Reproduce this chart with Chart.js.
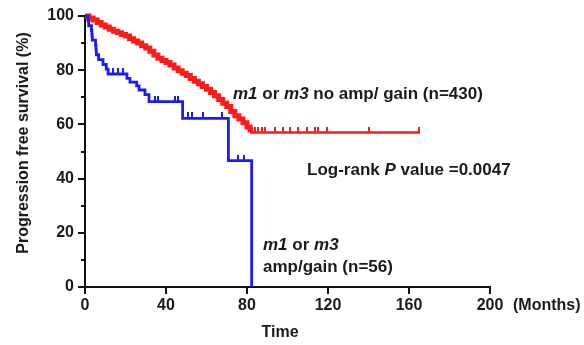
<!DOCTYPE html>
<html><head><meta charset="utf-8">
<script src="https://cdn.jsdelivr.net/npm/chart.js@4.4.0/dist/chart.umd.min.js"></script>
<style>html,body{margin:0;padding:0;background:#fff;}canvas{display:block;}</style>
</head><body>
<canvas id="c" width="584" height="345"></canvas>
<script>
// ---- data ----
const xTickValues = [0, 40, 80, 120, 160, 200];
const yTickValues = [0, 20, 40, 60, 80, 100];
const yMinorTicks = [10, 30, 50, 70, 90];

const redTime = [0,2,4,6,8,10,12,14,16,18,20,22,24,26,28,30,32,34,36,38,40,42,44,46,48,50,52,54,56,58,60,62,64,66,68,70,72,74,76,78,80,81.5,165.4];
const redSurv = [100,99.3,98.5,97.6,96.7,95.9,95.1,94.4,93.8,93.2,92.6,91.6,90.8,90,89,88.2,87,85.6,84.4,83.6,82.8,81.9,80.8,79.8,78.9,78,76.9,75.9,75,74,73,71.8,70.6,69.2,67.8,66.6,64.8,63.2,62,60.6,59,57,57];
const redCensorTime = [82.5,83.9,85.6,87.2,88.9,93.8,97.9,101.2,105.3,109.5,113.6,115,119.3,140.3,164.8];
const redCensorSurv = [57,57,57,57,57,57,57,57,57,57,57,57,57,57,57];

const blueTime = [0,1.5,1.8,3.2,3.4,3.6,5.2,5.4,5.6,6.7,8.9,10.5,11.4,20.7,22.2,25.5,26.7,29.6,31.6,48.2,70.8,82.3];
const blueSurv = [100,98.2,96.4,94.6,92.9,91.1,89.3,87.5,85.7,83.9,82.1,80.4,78.6,77,75.6,74.2,72.7,71,68.4,62.2,46.6,0];
const blueCensorTime = [14,16.4,18.9,34.6,36.2,44.4,46,50.9,52.8,58.3,67.7,75.6,78.5];
const blueCensorSurv = [78.6,78.6,78.6,68.4,68.4,68.4,68.4,62.2,62.2,62.2,62.2,46.6,46.6];

const yTitle = 'Progression free survival (%)';
const xTitle = 'Time';
const xUnit = '(Months)';

// ---- helpers ----
const RED = '#ff1a1a';
const BLUE = '#1a1aff';
const FONT = '"Liberation Sans", Arial, sans-serif';
function pts(xs, ys){ return xs.map((x,i)=>({x:x, y:ys[i]})); }
function tickImg(color){
  const c = document.createElement('canvas');
  c.width = 2; c.height = 12;
  const g = c.getContext('2d');
  g.fillStyle = color; g.fillRect(0,0,2,6);
  return c;
}

function drawRich(ctx, parts, x, y, size){
  let cx = x;
  for (const [t, it] of parts){
    ctx.font = (it ? 'italic ' : '') + 'bold ' + size + 'px ' + FONT;
    ctx.fillText(t, cx, y);
    cx += ctx.measureText(t).width;
  }
}

const textPlugin = {
  id: 'texts',
  afterDraw(chart){
    const ctx = chart.ctx;
    const ys = chart.scales.y;
    const left = chart.chartArea.left;
    ctx.save();
    // minor y ticks
    ctx.strokeStyle = '#111'; ctx.lineWidth = 2;
    yMinorTicks.forEach(v=>{
      const py = Math.round(ys.getPixelForValue(v));
      ctx.beginPath(); ctx.moveTo(left-4, py); ctx.lineTo(left, py); ctx.stroke();
    });
    ctx.fillStyle = '#1a1a1a';
    ctx.textBaseline = 'middle';
    ctx.textAlign = 'left';
    drawRich(ctx, [['m1',true],[' or ',false],['m3',true],[' no amp/ gain (n=430)',false]], 233, 94, 17);
    drawRich(ctx, [['Log-rank ',false],['P',true],[' value =0.0047',false]], 307, 170, 17);
    drawRich(ctx, [['m1',true],[' or ',false],['m3',true]], 263, 245, 17);
    drawRich(ctx, [['amp/gain (n=56)',false]], 263, 267, 17);
    ctx.font = 'bold 16px ' + FONT;
    ctx.fillText(xUnit, 513, 306);
    ctx.textAlign = 'center';
    ctx.fillText(xTitle, 280, 333);
    ctx.translate(24, 143);
    ctx.rotate(-Math.PI/2);
    ctx.fillText(yTitle, 0, 0);
    ctx.restore();
  }
};

new Chart(document.getElementById('c'), {
  type: 'line',
  data: {
    datasets: [
      { data: pts(blueTime, blueSurv), borderColor: BLUE, borderWidth: 2.8, stepped: 'before', pointRadius: 0, fill: false, clip: false },
      { data: pts(redTime, redSurv), borderColor: RED, borderWidth: 2.5, stepped: 'before', pointRadius: 0, fill: false, clip: false,
        segment: { borderWidth: c => (c.p0.parsed.x < 81 ? 5 : 2.5) } },
      { data: pts(blueCensorTime, blueCensorSurv), showLine: false, pointStyle: tickImg(BLUE), pointRadius: 3, clip: false },
      { data: pts(redCensorTime, redCensorSurv), showLine: false, pointStyle: tickImg(RED), pointRadius: 3, clip: false }
    ]
  },
  options: {
    responsive: false,
    devicePixelRatio: 1,
    animation: false,
    layout: { padding: { left: 0, right: 94, top: 16, bottom: 0 } },
    plugins: { legend: { display: false }, tooltip: { enabled: false } },
    scales: {
      x: {
        type: 'linear', min: 0, max: 200,
        afterBuildTicks: s => { s.ticks = xTickValues.map(v => ({ value: v })); },
        afterFit: s => { s.height = 58; },
        ticks: { color: '#1a1a1a', font: { family: FONT, size: 16, weight: 'bold' }, padding: 2, maxRotation: 0, autoSkip: false },
        grid: { drawOnChartArea: false, drawTicks: true, tickLength: 7, color: '#111', lineWidth: 2 },
        border: { display: true, color: '#111', width: 2 }
      },
      y: {
        type: 'linear', min: 0, max: 100,
        afterBuildTicks: s => { s.ticks = yTickValues.map(v => ({ value: v })); },
        afterFit: s => { s.width = 85; },
        ticks: { color: '#1a1a1a', font: { family: FONT, size: 16, weight: 'bold' }, padding: 4, autoSkip: false },
        grid: { drawOnChartArea: false, drawTicks: true, tickLength: 7, color: '#111', lineWidth: 2 },
        border: { display: true, color: '#111', width: 2 }
      }
    }
  },
  plugins: [textPlugin]
});
</script>
</body></html>
